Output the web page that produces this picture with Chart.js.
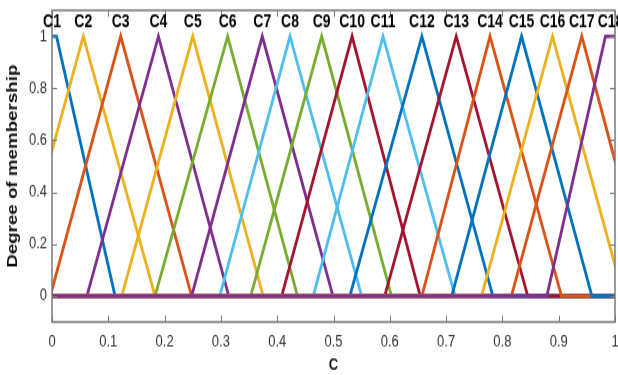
<!DOCTYPE html>
<html>
<head>
<meta charset="utf-8">
<script src="https://cdn.jsdelivr.net/npm/chart.js@4.4.1/dist/chart.umd.min.js"></script>
<style>
  html, body { margin: 0; padding: 0; background: #fff; }
  #myChart { display: block; }
</style>
</head>
<body>
<!-- drawn at 618x290 and stretched to 618x375, like the source picture -->
<canvas id="myChart" width="618" height="290" style="width:618px;height:375px"></canvas>
<script>
// membership functions (trapezoids, triangles have peakStart == peakEnd)
const names     = ['C1','C2','C3','C4','C5','C6','C7','C8','C9','C10','C11','C12','C13','C14','C15','C16','C17','C18'];
const leftFoot  = [-0.10, -0.071, -0.003, 0.062, 0.124, 0.183, 0.248, 0.298, 0.353, 0.408, 0.464, 0.529, 0.591, 0.657, 0.710, 0.763, 0.816, 0.879];
const peakStart = [-0.05, 0.0556, 0.122, 0.189, 0.250, 0.312, 0.3735, 0.4227, 0.479, 0.533, 0.588, 0.657, 0.718, 0.778, 0.834, 0.889, 0.941, 0.983];
const peakEnd   = [0.008, 0.0556, 0.122, 0.189, 0.250, 0.312, 0.3735, 0.4227, 0.479, 0.533, 0.588, 0.657, 0.718, 0.778, 0.834, 0.889, 0.941, 1.05];
const rightFoot = [0.112, 0.183, 0.248, 0.314, 0.375, 0.436, 0.499, 0.550, 0.603, 0.654, 0.716, 0.783, 0.845, 0.905, 0.959, 1.015, 1.064, 1.10];

const xTicks = [0, 0.1, 0.2, 0.3, 0.4, 0.5, 0.6, 0.7, 0.8, 0.9, 1];
const xTickLabels = ['0', '0.1', '0.2', '0.3', '0.4', '0.5', '0.6', '0.7', '0.8', '0.9', '1'];
const yTicks = [0, 0.2, 0.4, 0.6, 0.8, 1];
const yTickLabels = ['0', '0.2', '0.4', '0.6', '0.8', '1'];

// matlab colour order
const blue = '#0072BD', orange = '#D95319', yellow = '#EDB120', purple = '#7E2F8E',
      green = '#77AC30', lblue = '#4DBEEE', red = '#A2142F';
const colors = [blue, yellow, orange, purple, yellow, green, purple, lblue, green, red,
                lblue, blue, red, orange, blue, yellow, orange, purple];

const font = '"Liberation Sans", Arial, sans-serif';

const datasets = names.map((n, i) => ({
  label: n,
  data: [
    {x: Math.min(0, leftFoot[i]), y: 0},
    {x: leftFoot[i], y: 0},
    {x: peakStart[i], y: 1},
    {x: peakEnd[i], y: 1},
    {x: rightFoot[i], y: 0},
    {x: Math.max(1, rightFoot[i]), y: 0}
  ],
  borderColor: colors[i],
  borderWidth: 2.8,
  pointRadius: 0,
  tension: 0,
  fill: false,
  order: names.length - i   // last one on top
}));

// box, inward ticks and the C1..C18 names
const frame = {
  id: 'frame',
  afterDatasetsDraw(chart) {
    const {ctx, chartArea: a, scales: {x, y}} = chart;
    ctx.save();
    ctx.strokeStyle = '#7a7a7a';
    ctx.lineWidth = 1.5;
    ctx.strokeRect(a.left, a.top, a.right - a.left, a.bottom - a.top);
    ctx.beginPath();
    xTicks.forEach(v => {
      const px = Math.round(x.getPixelForValue(v)) + 0.5;
      ctx.moveTo(px, a.bottom); ctx.lineTo(px, a.bottom - 5);
      ctx.moveTo(px, a.top); ctx.lineTo(px, a.top + 5);
    });
    yTicks.forEach(v => {
      const py = Math.round(y.getPixelForValue(v)) + 0.5;
      ctx.moveTo(a.left, py); ctx.lineTo(a.left + 5, py);
      ctx.moveTo(a.right, py); ctx.lineTo(a.right - 5, py);
    });
    ctx.lineWidth = 1;
    ctx.stroke();

    ctx.fillStyle = '#000';
    ctx.font = 'bold 14px ' + font;
    ctx.textAlign = 'center';
    ctx.textBaseline = 'middle';
    names.forEach((n, i) => {
      const mid = Math.min(Math.max((peakStart[i] + peakEnd[i]) / 2, 0), 0.992);
      ctx.fillText(n, x.getPixelForValue(mid), y.getPixelForValue(1.055));
    });
    ctx.restore();
  }
};

new Chart(document.getElementById('myChart'), {
  type: 'line',
  data: { datasets },
  plugins: [frame],
  options: {
    responsive: false,
    devicePixelRatio: 1,
    animation: false,
    layout: { padding: { top: 8, right: 3, left: 0, bottom: 0 } },
    plugins: { legend: { display: false }, tooltip: { enabled: false } },
    scales: {
      x: {
        type: 'linear',
        min: 0, max: 1,
        afterBuildTicks: s => { s.ticks = xTicks.map(v => ({value: v})); },
        afterFit: s => { s.height = 41; s.paddingLeft = 0; s.paddingRight = 0; },
        ticks: {
          autoSkip: false, maxRotation: 0, padding: 8,
          color: '#333', font: { family: font, size: 13 },
          callback: (v, i) => xTickLabels[i]
        },
        grid: { display: false, drawTicks: false },
        border: { display: false },
        title: {
          display: true, text: 'C', color: '#111',
          font: { family: font, size: 13, weight: 'bold', lineHeight: 1 },
          padding: { top: 0, bottom: 1 }
        }
      },
      y: {
        min: -0.1, max: 1.1,
        afterBuildTicks: s => { s.ticks = yTicks.map(v => ({value: v})); },
        afterFit: s => { s.width = 52; s.paddingTop = 0; s.paddingBottom = 0; },
        ticks: {
          autoSkip: false, padding: 5,
          color: '#333', font: { family: font, size: 13 },
          callback: (v, i) => yTickLabels[i]
        },
        grid: { display: false, drawTicks: false },
        border: { display: false },
        title: {
          display: true, text: 'Degree of membership', color: '#111',
          font: { family: font, size: 14.5, weight: 'bold', lineHeight: 1 },
          padding: { top: 6, bottom: 0 }
        }
      }
    }
  }
});
</script>
</body>
</html>
